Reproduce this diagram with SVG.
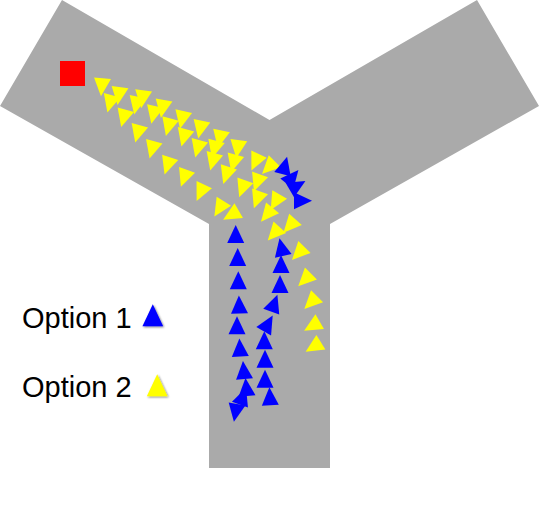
<svg xmlns="http://www.w3.org/2000/svg" xmlns:xlink="http://www.w3.org/1999/xlink" width="539" height="509" viewBox="0 0 539 509">
<style>
.road{fill:#aaaaaa}
.y{fill:#ffff00}
.b{fill:#0000ff}
.lbl{font-family:"Liberation Sans",Arial,sans-serif;font-size:29px;fill:#000}
</style>
<defs>
<polygon id="t" points="0,-12 8.5,6 -8.5,6"/>
<filter id="sh" x="-30%" y="-30%" width="160%" height="160%">
<feGaussianBlur in="SourceAlpha" stdDeviation="0.8"/>
<feOffset dx="1" dy="1" result="o"/>
<feComponentTransfer><feFuncA type="linear" slope="0.5"/></feComponentTransfer>
<feMerge><feMergeNode/><feMergeNode in="SourceGraphic"/></feMerge>
</filter>
</defs>
<g id="road">
<polygon class="road" points="62,0 269.5,120 477,0 539,106 330,224 330,468 209,468 209,224 0,106"/>
</g>
<g id="start">
<rect x="60" y="61" width="25" height="25" fill="#ff0000"/>
</g>
<g id="option2-path" class="y">
<use xlink:href="#t" transform="translate(102,84.3) rotate(185)"/>
<use xlink:href="#t" transform="translate(119.2,93) rotate(188)"/>
<use xlink:href="#t" transform="translate(110.5,101) rotate(195)"/>
<use xlink:href="#t" transform="translate(142.8,96.3) rotate(188)"/>
<use xlink:href="#t" transform="translate(136.7,102.7) rotate(192)"/>
<use xlink:href="#t" transform="translate(163,106) rotate(190)"/>
<use xlink:href="#t" transform="translate(154,112) rotate(193)"/>
<use xlink:href="#t" transform="translate(124.3,115.5) rotate(195)"/>
<use xlink:href="#t" transform="translate(182.5,117) rotate(192)"/>
<use xlink:href="#t" transform="translate(169,124.3) rotate(195)"/>
<use xlink:href="#t" transform="translate(200.7,126.7) rotate(192)"/>
<use xlink:href="#t" transform="translate(138.3,131) rotate(195)"/>
<use xlink:href="#t" transform="translate(184.5,135) rotate(195)"/>
<use xlink:href="#t" transform="translate(220.3,136.3) rotate(192)"/>
<use xlink:href="#t" transform="translate(198.3,146) rotate(195)"/>
<use xlink:href="#t" transform="translate(215,146.7) rotate(195)"/>
<use xlink:href="#t" transform="translate(238,146) rotate(188)"/>
<use xlink:href="#t" transform="translate(152.7,147) rotate(195)"/>
<use xlink:href="#t" transform="translate(213.3,159) rotate(195)"/>
<use xlink:href="#t" transform="translate(234.3,160.5) rotate(195)"/>
<use xlink:href="#t" transform="translate(256.5,159.5) rotate(205)"/>
<use xlink:href="#t" transform="translate(270.5,165.5) rotate(225)"/>
<use xlink:href="#t" transform="translate(168.3,163) rotate(198)"/>
<use xlink:href="#t" transform="translate(227,172.5) rotate(198)"/>
<use xlink:href="#t" transform="translate(185,175.5) rotate(200)"/>
<use xlink:href="#t" transform="translate(201.7,190) rotate(205)"/>
<use xlink:href="#t" transform="translate(243.3,186) rotate(200)"/>
<use xlink:href="#t" transform="translate(258,180) rotate(200)"/>
<use xlink:href="#t" transform="translate(258,197) rotate(200)"/>
<use xlink:href="#t" transform="translate(276.7,199.7) rotate(210)"/>
<use xlink:href="#t" transform="translate(220.7,206.3) rotate(212)"/>
<use xlink:href="#t" transform="translate(233.5,213.7) rotate(240)"/>
<use xlink:href="#t" transform="translate(268.7,212.5) rotate(220)"/>
<use xlink:href="#t" transform="translate(275.8,231.7) rotate(222)"/>
<use xlink:href="#t" transform="translate(291.5,223.8) rotate(222)"/>
<use xlink:href="#t" transform="translate(300.3,251.3) rotate(224)"/>
<use xlink:href="#t" transform="translate(306.7,277.8) rotate(225)"/>
<use xlink:href="#t" transform="translate(312.8,300.5) rotate(225)"/>
<use xlink:href="#t" transform="translate(314.5,324.7) rotate(240)"/>
<use xlink:href="#t" transform="translate(315.8,345.5) rotate(238)"/>
</g>
<g id="option1-path" class="b">
<use xlink:href="#t" transform="translate(284,168.3) rotate(15)"/>
<use xlink:href="#t" transform="translate(290.7,179.3) rotate(40)"/>
<use xlink:href="#t" transform="translate(295,187) rotate(60)"/>
<use xlink:href="#t" transform="translate(300,200.7) rotate(90)"/>
<use xlink:href="#t" transform="translate(235.7,237) rotate(0)"/>
<use xlink:href="#t" transform="translate(237.7,260) rotate(0)"/>
<use xlink:href="#t" transform="translate(238.3,283.3) rotate(0)"/>
<use xlink:href="#t" transform="translate(239.3,307.5) rotate(-2)"/>
<use xlink:href="#t" transform="translate(237,328.3) rotate(0)"/>
<use xlink:href="#t" transform="translate(240,350.5) rotate(-3)"/>
<use xlink:href="#t" transform="translate(244,373) rotate(-5)"/>
<use xlink:href="#t" transform="translate(246.5,390) rotate(-5)"/>
<use xlink:href="#t" transform="translate(242,399) rotate(20)"/>
<use xlink:href="#t" transform="translate(236,410) rotate(190)"/>
<use xlink:href="#t" transform="translate(282,250) rotate(-12)"/>
<use xlink:href="#t" transform="translate(281,267) rotate(0)"/>
<use xlink:href="#t" transform="translate(280,287) rotate(0)"/>
<use xlink:href="#t" transform="translate(273.3,306) rotate(20)"/>
<use xlink:href="#t" transform="translate(266.7,326) rotate(30)"/>
<use xlink:href="#t" transform="translate(264.3,343.3) rotate(0)"/>
<use xlink:href="#t" transform="translate(265,361.7) rotate(0)"/>
<use xlink:href="#t" transform="translate(265,381.7) rotate(0)"/>
<use xlink:href="#t" transform="translate(270,399.3) rotate(-3)"/>
</g>
<g id="legend1">
<text class="lbl" x="22" y="328">Option 1</text>
<use xlink:href="#t" class="b" filter="url(#sh)" transform="translate(152.8,319) scale(1.22)"/>
</g>
<g id="legend2">
<text class="lbl" x="22" y="397">Option 2</text>
<use xlink:href="#t" class="y" filter="url(#sh)" transform="translate(157.2,389) scale(1.22)"/>
</g>
</svg>
